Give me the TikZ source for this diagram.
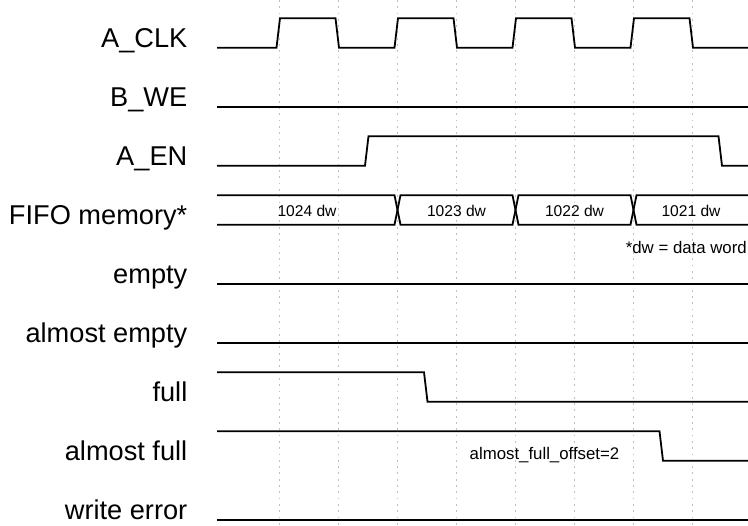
\documentclass[tikz,border=0pt]{standalone}
\usepackage{fontspec}
\setmainfont{Liberation Sans}
\begin{document}
\begin{tikzpicture}[x=1pt,y=-1pt,
  sig/.style={line width=1.8pt, line join=miter, line cap=butt},
  gridl/.style={black!25, line width=0.8pt, dash pattern=on 1.8pt off 4.5pt},
  lbl/.style={anchor=base east, inner sep=0pt, font=\fontsize{27.2}{31}\selectfont},
  buslbl/.style={anchor=base, inner sep=0pt, font=\fontsize{15.6}{18}\selectfont},
  note/.style={inner sep=0pt, font=\fontsize{16.8}{20}\selectfont}]
\useasboundingbox (0,0) rectangle (748,526);

% grid
\foreach \k in {0,...,7}
  \draw[gridl] ({279.5+59*\k},0) -- ({279.5+59*\k},526);

% labels
\node[lbl] (lclk)  at (187.5,47.7)  {A\_CLK};
\node[lbl] (lwe)   at (187.5,106.7) {B\_WE};
\node[lbl] (len)   at (187.5,165.7) {A\_EN};
\node[lbl] (lfifo) at (187.5,224.7) {FIFO memory*};
\node[lbl] (lemp)  at (187.5,283.7) {empty};
\node[lbl] (lae)   at (187.5,342.7) {almost empty};
\node[lbl] (lfull) at (187.5,401.7) {full};
\node[lbl] (laf)   at (187.5,460.7) {almost full};
\node[lbl] (lwerr) at (187.5,519.7) {write error};

% A_CLK
\draw[sig] (217,47.7) -- (276.5,47.7) -- (280,18.2) -- (335.5,18.2) -- (339,47.7)
  -- (394.5,47.7) -- (398,18.2) -- (453.5,18.2) -- (457,47.7)
  -- (512.5,47.7) -- (516,18.2) -- (571.5,18.2) -- (575,47.7)
  -- (630.5,47.7) -- (634,18.2) -- (689.5,18.2) -- (693,47.7) -- (748,47.7);

% B_WE
\draw[sig] (217,106.7) -- (748,106.7);

% A_EN
\draw[sig] (217,165.7) -- (365,165.7) -- (368.5,136.2) -- (718.5,136.2) -- (722,165.7) -- (748,165.7);

% FIFO bus
\draw[sig] (217,195.2) -- (394.5,195.2) -- (400.5,224.7) -- (512.5,224.7) -- (518.5,195.2)
  -- (630.5,195.2) -- (636.5,224.7) -- (748,224.7);
\draw[sig] (217,224.7) -- (394.5,224.7) -- (400.5,195.2) -- (512.5,195.2) -- (518.5,224.7)
  -- (630.5,224.7) -- (636.5,195.2) -- (748,195.2);
\node[buslbl] (d1024) at (307,216.5)   {1024 dw};
\node[buslbl] (d1023) at (456.5,216.5) {1023 dw};
\node[buslbl] (d1022) at (574.5,216.5) {1022 dw};
\node[buslbl] (d1021) at (691,216.5)   {1021 dw};
\node[note, anchor=base east] (dwnote) at (747,253.3) {*dw = data word};

% empty, almost empty
\draw[sig] (217,283.7) -- (748,283.7);
\draw[sig] (217,342.7) -- (748,342.7);

% full
\draw[sig] (217,372.2) -- (424,372.2) -- (427.5,401.7) -- (748,401.7);

% almost full
\draw[sig] (217,431.2) -- (659.5,431.2) -- (663,460.7) -- (748,460.7);
\node[note, anchor=base] (afo) at (544.5,459.3) {almost\_full\_offset=2};

% write error
\draw[sig] (217,519.7) -- (748,519.7);
\end{tikzpicture}
\end{document}
